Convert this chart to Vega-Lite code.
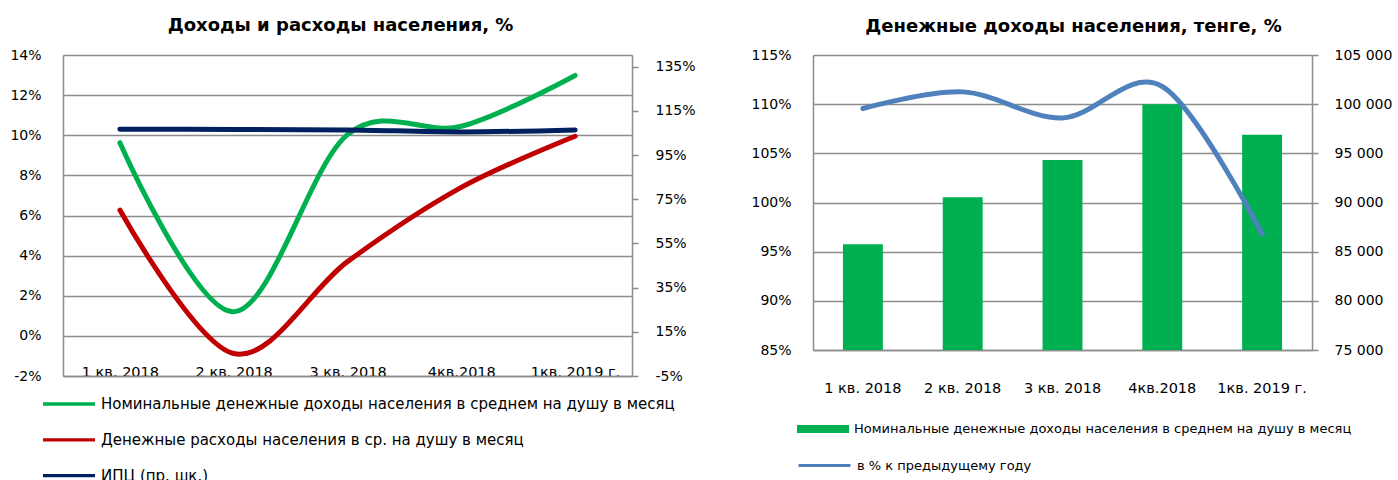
{
  "$schema": "https://vega.github.io/schema/vega-lite/v6.json",
  "padding": {"left": 9, "top": 17, "right": 0, "bottom": 0},
  "background": "white",
  "datasets": {
    "left": [
      {"q": "1 кв. 2018", "s": "Номинальные денежные доходы населения в среднем на душу в месяц", "v": 9.63},
      {"q": "2 кв. 2018", "s": "Номинальные денежные доходы населения в среднем на душу в месяц", "v": 1.2},
      {"q": "3 кв. 2018", "s": "Номинальные денежные доходы населения в среднем на душу в месяц", "v": 10.03},
      {"q": "4кв.2018", "s": "Номинальные денежные доходы населения в среднем на душу в месяц", "v": 10.45},
      {"q": "1кв. 2019 г.", "s": "Номинальные денежные доходы населения в среднем на душу в месяц", "v": 12.98},
      {"q": "1 кв. 2018", "s": "Денежные расходы населения в ср. на душу в месяц", "v": 6.27},
      {"q": "2 кв. 2018", "s": "Денежные расходы населения в ср. на душу в месяц", "v": -0.88},
      {"q": "3 кв. 2018", "s": "Денежные расходы населения в ср. на душу в месяц", "v": 3.7},
      {"q": "4кв.2018", "s": "Денежные расходы населения в ср. на душу в месяц", "v": 7.4},
      {"q": "1кв. 2019 г.", "s": "Денежные расходы населения в ср. на душу в месяц", "v": 9.95}
    ],
    "cpi": [
      {"q": "1 кв. 2018", "s": "ИПЦ (пр. шк.)", "v": 106.7},
      {"q": "2 кв. 2018", "s": "ИПЦ (пр. шк.)", "v": 106.6},
      {"q": "3 кв. 2018", "s": "ИПЦ (пр. шк.)", "v": 106.4},
      {"q": "4кв.2018", "s": "ИПЦ (пр. шк.)", "v": 105.5},
      {"q": "1кв. 2019 г.", "s": "ИПЦ (пр. шк.)", "v": 106.4}
    ],
    "right": [
      {"q": "1 кв. 2018", "inc": 85750, "pct": 109.56},
      {"q": "2 кв. 2018", "inc": 90530, "pct": 111.25},
      {"q": "3 кв. 2018", "inc": 94320, "pct": 108.6},
      {"q": "4кв.2018", "inc": 100000, "pct": 111.8},
      {"q": "1кв. 2019 г.", "inc": 96900, "pct": 96.8}
    ]
  },
  "spacing": 54,
  "hconcat": [
    {
      "title": {"text": "Доходы и расходы населения, %", "frame": "group", "dx": -7, "offset": 13},
      "width": 569,
      "height": 321,
      "layer": [
        {
          "data": {"name": "left"},
          "mark": {"type": "line", "interpolate": "cardinal", "strokeWidth": 5, "strokeCap": "round"},
          "encoding": {
            "x": {"field": "q", "type": "ordinal", "sort": ["1 кв. 2018", "2 кв. 2018", "3 кв. 2018", "4кв.2018", "1кв. 2019 г."],
                  "scale": {"type": "point", "padding": 0.5},
                  "axis": {"title": null, "labelAngle": 0, "ticks": false, "tickSize": 0, "labelPadding": 0, "labelBaseline": "alphabetic", "labelFontSize": 14.5, "domainColor": "#8c8c8c", "domainWidth": 1.5}},
            "y": {"field": "v", "type": "quantitative",
                  "scale": {"domain": [-2, 14], "nice": false, "zero": false},
                  "axis": {"title": null, "values": [-2, 0, 2, 4, 6, 8, 10, 12, 14], "labelExpr": "datum.value + '%'", "grid": true, "ticks": false, "tickSize": 0, "labelPadding": 22, "labelFontSize": 14, "domainColor": "#8c8c8c", "domainWidth": 1.5}},
            "color": {"field": "s", "type": "nominal",
                      "scale": {"domain": ["Номинальные денежные доходы населения в среднем на душу в месяц", "Денежные расходы населения в ср. на душу в месяц", "ИПЦ (пр. шк.)"], "range": ["#00B050", "#C00000", "#002060"]},
                      "legend": {"orient": "none", "legendX": -6, "legendY": 337, "direction": "vertical", "title": null, "symbolType": "M-2.6,0H2.6", "symbolSize": 400, "symbolStrokeWidth": 3.3, "labelFontSize": 15, "labelOffset": 20, "rowPadding": 15.8, "padding": 0, "labelLimit": 1000}}
          }
        },
        {
          "data": {"name": "cpi"},
          "mark": {"type": "line", "interpolate": "cardinal", "strokeWidth": 5, "strokeCap": "round"},
          "encoding": {
            "x": {"field": "q", "type": "ordinal", "sort": ["1 кв. 2018", "2 кв. 2018", "3 кв. 2018", "4кв.2018", "1кв. 2019 г."]},
            "y": {"field": "v", "type": "quantitative",
                  "scale": {"domain": [-5, 140.3], "nice": false, "zero": false},
                  "axis": {"title": null, "orient": "right", "values": [-5, 15, 35, 55, 75, 95, 115, 135], "labelExpr": "datum.value + '%'", "grid": false, "ticks": true, "tickSize": 6, "labelPadding": 17, "labelFontSize": 14, "domainColor": "#8c8c8c", "tickColor": "#8c8c8c", "domainWidth": 1.5, "tickWidth": 1.5}},
            "color": {"field": "s", "type": "nominal"}
          }
        }
      ],
      "resolve": {"scale": {"y": "independent"}}
    },
    {
      "title": {"text": "Денежные доходы населения, тенге, %", "frame": "group", "dx": 11, "offset": 12},
      "width": 499,
      "height": 295,
      "data": {"name": "right"},
      "layer": [
        {
          "mark": {"type": "bar"},
          "encoding": {
            "x": {"field": "q", "type": "ordinal", "sort": ["1 кв. 2018", "2 кв. 2018", "3 кв. 2018", "4кв.2018", "1кв. 2019 г."],
                  "scale": {"type": "band", "paddingInner": 0.6, "paddingOuter": 0.3},
                  "axis": {"title": null, "labelAngle": 0, "ticks": false, "tickSize": 0, "labelPadding": 42, "labelBaseline": "alphabetic", "labelFontSize": 14.5, "domainColor": "#8c8c8c", "domainWidth": 1.5}},
            "y": {"field": "inc", "type": "quantitative",
                  "scale": {"domain": [75000, 105000], "nice": false, "zero": false},
                  "axis": {"title": null, "orient": "right", "values": [75000, 80000, 85000, 90000, 95000, 100000, 105000], "labelExpr": "replace(format(datum.value, ','), ',', ' ')", "grid": false, "ticks": true, "tickSize": 6, "labelPadding": 16, "labelFontSize": 14, "domainColor": "#8c8c8c", "tickColor": "#8c8c8c", "domainWidth": 1.5, "tickWidth": 1.5}},
            "y2": {"datum": 75000},
            "fill": {"datum": "Номинальные денежные доходы населения в среднем на душу в месяц", "type": "nominal",
                     "scale": {"range": ["#00B050"]},
                     "legend": {"orient": "none", "legendX": 0, "legendY": 364, "title": null, "symbolType": "M-2.6,-0.4H2.6V0.4H-2.6Z", "symbolSize": 400, "symbolStrokeWidth": 0, "labelFontSize": 13, "labelOffset": 21, "padding": 0, "labelLimit": 1000}}
          }
        },
        {
          "mark": {"type": "line", "interpolate": "cardinal", "strokeWidth": 5, "strokeCap": "round"},
          "encoding": {
            "x": {"field": "q", "type": "ordinal", "sort": ["1 кв. 2018", "2 кв. 2018", "3 кв. 2018", "4кв.2018", "1кв. 2019 г."]},
            "y": {"field": "pct", "type": "quantitative",
                  "scale": {"domain": [85, 115], "nice": false, "zero": false},
                  "axis": {"title": null, "orient": "left", "values": [85, 90, 95, 100, 105, 110, 115], "labelExpr": "datum.value + '%'", "grid": true, "ticks": false, "tickSize": 0, "labelPadding": 22, "labelFontSize": 14, "domainColor": "#8c8c8c", "domainWidth": 1.5}},
            "stroke": {"datum": "в % к предыдущему году", "type": "nominal",
                       "scale": {"range": ["#4F81BD"]},
                       "legend": {"orient": "none", "legendX": 0, "legendY": 399, "title": null, "symbolType": "M-2.6,0H2.6", "symbolSize": 400, "symbolStrokeWidth": 3, "labelFontSize": 13, "labelOffset": 21, "padding": 0, "labelLimit": 1000}}
          }
        }
      ],
      "resolve": {"scale": {"y": "independent"}}
    }
  ],
  "resolve": {
    "scale": {"color": "independent", "fill": "independent", "stroke": "independent"},
    "legend": {"color": "independent", "fill": "independent", "stroke": "independent"}
  },
  "config": {
    "font": "DejaVu Sans",
    "view": {"stroke": null},
    "title": {"font": "DejaVu Sans", "fontSize": 18, "fontWeight": "bold", "color": "#000000", "anchor": "middle"},
    "axis": {"labelFont": "DejaVu Sans", "labelColor": "#000000", "gridColor": "#8c8c8c", "gridWidth": 1.5, "gridOpacity": 1},
    "legend": {"labelFont": "DejaVu Sans", "labelColor": "#000000"}
  }
}
